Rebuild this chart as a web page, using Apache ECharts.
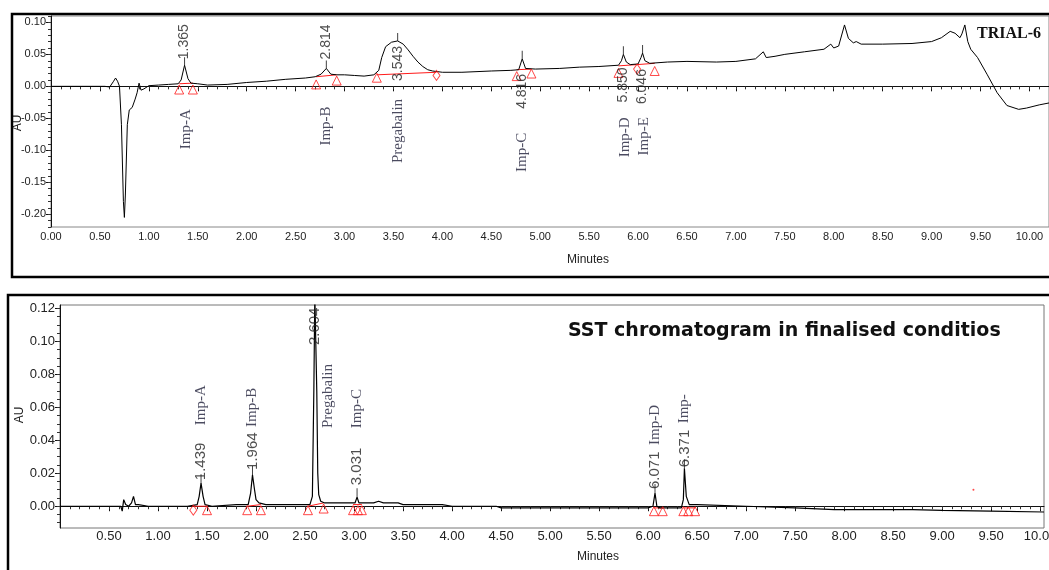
<!DOCTYPE html>
<html>
<head>
<meta charset="utf-8">
<script src="https://cdn.jsdelivr.net/npm/echarts@6/dist/echarts.min.js"></script>
<style>
  html, body { margin: 0; background: #fff; }
  #chart { width: 1049px; height: 570px; }
</style>
</head>
<body>
<div id="chart"></div>
<script>
// ---- TRIAL-6 chromatogram (top) ----
const trialTime = [0.00, 0.55, 0.60, 0.62, 0.64, 0.66, 0.68, 0.70, 0.72, 0.74, 0.75, 0.76, 0.78, 0.80, 0.83, 0.86, 0.88, 0.90, 0.92, 0.95,
  1.00, 1.10, 1.20, 1.30, 1.33, 1.365, 1.40, 1.43, 1.50, 1.60, 1.80, 2.00, 2.20, 2.40, 2.60, 2.70, 2.76, 2.814, 2.86, 2.92,
  3.00, 3.10, 3.20, 3.30, 3.35, 3.38, 3.42, 3.48, 3.543, 3.60, 3.65, 3.70, 3.75, 3.80, 3.85, 3.90, 4.00, 4.20, 4.50, 4.70,
  4.78, 4.816, 4.85, 4.95, 5.20, 5.40, 5.60, 5.80, 5.83, 5.85, 5.88, 5.92, 6.00, 6.03, 6.046, 6.07, 6.12, 6.30, 6.50, 6.80,
  7.00, 7.20, 7.28, 7.31, 7.40, 7.50, 7.70, 7.90, 7.97, 8.00, 8.05, 8.11, 8.15, 8.20, 8.23, 8.28, 8.50, 8.80, 9.00, 9.10,
  9.19, 9.24, 9.29, 9.31, 9.34, 9.37, 9.40, 9.47, 9.57, 9.67, 9.77, 9.89, 9.97, 10.10, 10.20];
const trialAU = [0.000, 0.000, -0.001, 0.000, 0.008, 0.013, 0.008, 0.000, -0.060, -0.180, -0.205, -0.170, -0.060, -0.037, -0.033, -0.020, -0.010, 0.005, -0.006, -0.004,
  0.001, 0.002, 0.003, 0.004, 0.010, 0.033, 0.012, 0.005, 0.004, 0.002, 0.003, 0.006, 0.008, 0.011, 0.013, 0.015, 0.019, 0.028, 0.019, 0.018,
  0.018, 0.017, 0.016, 0.018, 0.025, 0.045, 0.062, 0.069, 0.071, 0.066, 0.057, 0.047, 0.038, 0.031, 0.026, 0.024, 0.022, 0.022, 0.024, 0.025,
  0.026, 0.043, 0.028, 0.027, 0.028, 0.030, 0.031, 0.033, 0.040, 0.050, 0.038, 0.034, 0.035, 0.045, 0.052, 0.040, 0.036, 0.038, 0.039, 0.038,
  0.039, 0.043, 0.054, 0.045, 0.047, 0.050, 0.054, 0.058, 0.066, 0.060, 0.063, 0.096, 0.075, 0.068, 0.070, 0.066, 0.066, 0.067, 0.070, 0.076,
  0.086, 0.083, 0.076, 0.082, 0.096, 0.070, 0.058, 0.045, 0.018, -0.010, -0.030, -0.036, -0.034, -0.029, -0.026];

const trialPeakRT = [1.365, 2.814, 3.543, 4.816, 5.850, 6.046];
const trialPeakAU = [0.033, 0.028, 0.071, 0.043, 0.050, 0.052];
const trialPeakText = ['1.365', '2.814', '3.543', '4.816', '5.850', '6.046'];
const trialPeakName = ['Imp-A', 'Imp-B', 'Pregabalin', 'Imp-C', 'Imp-D', 'Imp-E'];

const trialTriT = [1.31, 1.45, 2.71, 2.92, 3.33, 4.76, 4.91, 5.80, 6.17];
const trialTriAU = [-0.005, -0.005, 0.003, 0.009, 0.0135, 0.016, 0.020, 0.021, 0.024];
const trialDiaT = [3.94, 5.99];
const trialDiaAU = [0.017, 0.027];
const trialBaseline = [[1.31, 0.004, 1.45, 0.005], [2.71, 0.015, 2.92, 0.018], [3.33, 0.018, 3.94, 0.022],
  [4.76, 0.026, 4.91, 0.027], [5.80, 0.032, 5.99, 0.034], [5.99, 0.034, 6.17, 0.036]];

const trialXTicks = [0, 0.5, 1, 1.5, 2, 2.5, 3, 3.5, 4, 4.5, 5, 5.5, 6, 6.5, 7, 7.5, 8, 8.5, 9, 9.5, 10];
const trialYTicks = [-0.20, -0.15, -0.10, -0.05, 0.00, 0.05, 0.10];

// ---- SST chromatogram (bottom) ----
const sstTime = [0.00, 0.30, 0.55, 0.62, 0.635, 0.65, 0.67, 0.70, 0.73, 0.75, 0.77, 0.80, 0.90, 1.10, 1.30, 1.40, 1.42, 1.439, 1.46, 1.48,
  1.55, 1.80, 1.92, 1.945, 1.964, 1.985, 2.00, 2.03, 2.10, 2.40, 2.55, 2.575, 2.59, 2.60, 2.61, 2.62, 2.63, 2.64, 2.66, 2.70,
  2.80, 2.95, 3.01, 3.031, 3.05, 3.20, 3.25, 3.30, 3.45, 3.50, 3.90, 4.00, 4.45, 4.50, 5.50, 6.00, 6.05, 6.071, 6.09, 6.12,
  6.34, 6.36, 6.371, 6.39, 6.42, 6.50, 7.00, 7.50, 7.90, 8.50, 8.70, 9.00, 9.50, 10.04];
const sstAU = [0.000, 0.000, 0.000, 0.000, -0.003, 0.004, 0.001, 0.000, 0.002, 0.006, 0.001, 0.001, 0.000, 0.000, 0.000, 0.001, 0.006, 0.014, 0.006, 0.001,
  0.000, 0.001, 0.001, 0.008, 0.019, 0.010, 0.004, 0.002, 0.001, 0.001, 0.001, 0.006, 0.070, 0.128, 0.128, 0.070, 0.020, 0.007, 0.003, 0.002,
  0.002, 0.002, 0.002, 0.0055, 0.002, 0.002, 0.003, 0.002, 0.002, 0.001, 0.001, 0.000, 0.000, -0.001, -0.001, -0.001, 0.000, 0.008, 0.000, -0.001,
  -0.001, 0.004, 0.023, 0.006, 0.001, 0.001, 0.000, -0.001, -0.002, -0.002, -0.002, -0.0025, -0.003, -0.0035];

const sstPeakRT = [1.439, 1.964, 2.604, 3.031, 6.071, 6.371];
const sstPeakAU = [0.014, 0.019, 0.128, 0.0055, 0.008, 0.023];
const sstPeakText = ['1.439', '1.964', '2.604', '3.031', '6.071', '6.371'];
const sstPeakName = ['Imp-A', 'Imp-B', 'Pregabalin', 'Imp-C', 'Imp-D', 'Imp-'];

const sstTriT = [1.50, 1.91, 2.05, 2.53, 2.69, 2.99, 3.04, 3.08, 6.06, 6.15, 6.36, 6.41, 6.48];
const sstTriAU = [-0.0024, -0.0024, -0.0024, -0.0024, -0.0014, -0.0024, -0.0024, -0.0024, -0.0030, -0.0030, -0.0030, -0.0030, -0.0030];
const sstDiaT = [1.36];
const sstDiaAU = [-0.0024];
const sstDotT = [9.32];
const sstDotAU = [0.010];
const sstBaseline = [[1.36, 0.000, 1.50, 0.000], [1.91, 0.000, 2.05, 0.001], [2.53, 0.000, 2.69, 0.002],
  [2.99, 0.001, 3.08, 0.001], [6.06, -0.001, 6.15, -0.001], [6.36, -0.001, 6.48, -0.001]];

const sstXTicks = [0.5, 1, 1.5, 2, 2.5, 3, 3.5, 4, 4.5, 5, 5.5, 6, 6.5, 7, 7.5, 8, 8.5, 9, 9.5, 10];
const sstYTicks = [0.00, 0.02, 0.04, 0.06, 0.08, 0.10, 0.12];

// label placement: pixels from the apex (+ above, - below), sideways shift and text direction
// ('left' = text runs upward from the anchor, 'right' = text hangs down from it)
const trialNumDist = [6, 9, -5, -15, -13, -16];
const trialNumAlign = ['left', 'left', 'right', 'right', 'right', 'right'];
const trialNameDist = [-44, -38, -58, -74, -63, -64];
const trialNameAlign = ['right', 'right', 'right', 'right', 'right', 'right'];
const trialNameDx = [2, 0, 0, 0, 2, 2];
const sstNumDist = [3, 5, -50, 12, 4, 1];
const sstNameDist = [58, 48, -133, 69, 48, 45];
const sstNameDx = [0, 0, 13, 0, 0, 0];
const sstAlign = ['left', 'left', 'left', 'left', 'left', 'left'];
const noDx = [0, 0, 0, 0, 0, 0];

function zip(a, b) { return a.map((v, i) => [v, b[i]]); }
function steps(a, b, s) {
  const out = [];
  for (let i = Math.round(a / s); i <= Math.round(b / s); i++) out.push(+(i * s).toFixed(4));
  return out;
}

const NARROW = '"Liberation Sans Narrow", "Liberation Sans", sans-serif';
const RED = '#ff1a1a';

function majorX(grid, min, max, ticks, font) {
  return {
    type: 'value', gridIndex: grid, min: min, max: max, position: 'bottom',
    axisLine: { lineStyle: { color: '#111', width: 1 } },
    axisTick: { customValues: ticks, length: 5, lineStyle: { color: '#111' } },
    axisLabel: { customValues: ticks, formatter: v => v.toFixed(2), fontFamily: NARROW, fontSize: font, color: '#222', margin: grid === 0 ? 4 : 2 },
    splitLine: { show: false }
  };
}
function minorX(grid, min, max, ticks) {
  return {
    type: 'value', gridIndex: grid, min: min, max: max, position: 'bottom',
    axisLine: { show: false },
    axisTick: { customValues: ticks, length: 3, lineStyle: { color: '#333' } },
    axisLabel: { show: false }, splitLine: { show: false }
  };
}
function majorY(grid, min, max, ticks, font) {
  return {
    type: 'value', gridIndex: grid, min: min, max: max, position: 'left',
    axisLine: { show: true, lineStyle: { color: '#111', width: 1 } },
    axisTick: { show: true, customValues: ticks, length: 5, lineStyle: { color: '#111' } },
    axisLabel: { customValues: ticks, formatter: v => v.toFixed(2), fontFamily: NARROW, fontSize: font, color: '#222', margin: 5 },
    splitLine: { show: false }
  };
}
function minorY(grid, min, max, ticks) {
  return {
    type: 'value', gridIndex: grid, min: min, max: max, position: 'left',
    axisLine: { show: false },
    axisTick: { show: true, customValues: ticks, length: 3, lineStyle: { color: '#333' } },
    axisLabel: { show: false }, splitLine: { show: false }
  };
}

function trace(idx, t, v, width) {
  return {
    type: 'line', xAxisIndex: idx, yAxisIndex: idx, data: zip(t, v), showSymbol: false,
    lineStyle: { color: '#000', width: width }, z: 3, silent: true
  };
}
function baselines(idx, segs) {
  return segs.map(s => ({
    type: 'line', xAxisIndex: idx, yAxisIndex: idx, data: [[s[0], s[1]], [s[2], s[3]]], showSymbol: false,
    lineStyle: { color: RED, width: 1 }, z: 2, silent: true
  }));
}
function marks(idx, t, v, symbol, size) {
  return {
    type: 'scatter', xAxisIndex: idx, yAxisIndex: idx, data: zip(t, v), symbol: symbol, symbolSize: size,
    itemStyle: { color: 'rgba(255,255,255,0)', borderColor: RED, borderWidth: 1 }, z: 4, silent: true
  };
}
function peakTicks(idx, t, v, len) {
  return {
    type: 'scatter', xAxisIndex: idx, yAxisIndex: idx, data: zip(t, v), symbol: 'rect',
    symbolSize: [1, len], symbolOffset: [0, -len / 2], itemStyle: { color: '#111' }, z: 4, silent: true
  };
}
// label offset is applied in the rotated frame: its second component moves the text sideways
function peakLabels(idx, t, v, texts, dists, aligns, dxs, style) {
  return {
    type: 'scatter', xAxisIndex: idx, yAxisIndex: idx, symbolSize: 0, z: 5, silent: true, clip: false,
    data: t.map((x, i) => ({
      value: [x, v[i]],
      label: { distance: dists[i], align: aligns[i], offset: [0, dxs[i]] }
    })),
    label: Object.assign({
      show: true, position: 'top', rotate: 90, verticalAlign: 'middle',
      formatter: p => texts[p.dataIndex]
    }, style)
  };
}

const numStyleTop = { fontFamily: '"Liberation Sans", Arial, sans-serif', fontSize: 14, color: '#222' };
const numStyleBot = { fontFamily: '"Liberation Sans", Arial, sans-serif', fontSize: 15, color: '#222' };
const nameStyle = { fontFamily: '"Liberation Serif", "Times New Roman", serif', fontSize: 15, color: '#1e1e38' };
const auStyle = { text: 'AU', fontFamily: NARROW, fontSize: 12, fill: '#222', align: 'center', verticalAlign: 'middle' };
const minStyle = { text: 'Minutes', fontFamily: NARROW, fontSize: 12, fill: '#222', align: 'center', verticalAlign: 'middle' };

const chart = echarts.init(document.getElementById('chart'));
const option = {
  animation: false,
  backgroundColor: '#fff',
  title: [
    { text: 'TRIAL-6', left: 977, top: 26, padding: 0,
      textStyle: { fontFamily: '"Liberation Serif", "Times New Roman", serif', fontWeight: 'bold', fontSize: 16, color: '#111' } },
    { text: 'SST chromatogram in finalised conditios', left: 568, top: 322, padding: 0,
      textStyle: { fontFamily: '"DejaVu Sans", Verdana, sans-serif', fontWeight: 'bold', fontSize: 19, color: '#111' } }
  ],
  graphic: [
    { type: 'rect', shape: { x: 12, y: 14, width: 1050, height: 263 }, style: { fill: 'none', stroke: '#000', lineWidth: 2.5 }, z: 10, silent: true },
    { type: 'rect', shape: { x: 8, y: 295, width: 1055, height: 290 }, style: { fill: 'none', stroke: '#000', lineWidth: 2.5 }, z: 10, silent: true },
    { type: 'text', x: 588, y: 260, style: minStyle, silent: true },
    { type: 'text', x: 598, y: 557, style: minStyle, silent: true },
    { type: 'text', x: 18, y: 123, rotation: Math.PI / 2, style: auStyle, silent: true },
    { type: 'text', x: 20, y: 415, rotation: Math.PI / 2, style: auStyle, silent: true }
  ],
  grid: [
    { left: 51, right: 0, top: 16, height: 211, show: true, borderColor: '#888', borderWidth: 1, backgroundColor: '#fff', outerBoundsMode: 'none', containLabel: false },
    { left: 60, right: 5, top: 305, height: 223, show: true, borderColor: '#777', borderWidth: 1, backgroundColor: '#fff', outerBoundsMode: 'none', containLabel: false }
  ],
  xAxis: [
    majorX(0, 0, 10.2, trialXTicks, 11),
    majorX(1, 0, 10.04, sstXTicks, 13),
    minorX(0, 0, 10.2, steps(0, 10.2, 0.1)),
    minorX(1, 0, 10.04, steps(0.1, 10.0, 0.1))
  ],
  yAxis: [
    majorY(0, -0.22, 0.11, trialYTicks, 11),
    majorY(1, -0.0132, 0.122, sstYTicks, 13),
    minorY(0, -0.22, 0.11, steps(-0.22, 0.11, 0.01)),
    minorY(1, -0.0132, 0.122, steps(-0.01, 0.12, 0.005))
  ],
  series: [
    trace(0, trialTime, trialAU, 1),
    ...baselines(0, trialBaseline),
    marks(0, trialTriT, trialTriAU, 'triangle', 9),
    marks(0, trialDiaT, trialDiaAU, 'diamond', [7, 10]),
    peakTicks(0, trialPeakRT, trialPeakAU, 8),
    peakLabels(0, trialPeakRT, trialPeakAU, trialPeakText, trialNumDist, trialNumAlign, noDx, numStyleTop),
    peakLabels(0, trialPeakRT, trialPeakAU, trialPeakName, trialNameDist, trialNameAlign, trialNameDx, nameStyle),

    trace(1, sstTime, sstAU, 1.2),
    ...baselines(1, sstBaseline),
    marks(1, sstTriT, sstTriAU, 'triangle', 9),
    marks(1, sstDiaT, sstDiaAU, 'diamond', [7, 10]),
    { type: 'scatter', xAxisIndex: 1, yAxisIndex: 1, data: zip(sstDotT, sstDotAU), symbolSize: 2, itemStyle: { color: RED }, silent: true },
    peakTicks(1, sstPeakRT.filter((x, i) => i !== 2), sstPeakAU.filter((x, i) => i !== 2), 9),
    peakLabels(1, sstPeakRT, sstPeakAU, sstPeakText, sstNumDist, sstAlign, noDx, numStyleBot),
    peakLabels(1, sstPeakRT, sstPeakAU, sstPeakName, sstNameDist, sstAlign, sstNameDx, nameStyle)
  ]
};
chart.setOption(option);
window.addEventListener('resize', () => chart.resize());
</script>
</body>
</html>
